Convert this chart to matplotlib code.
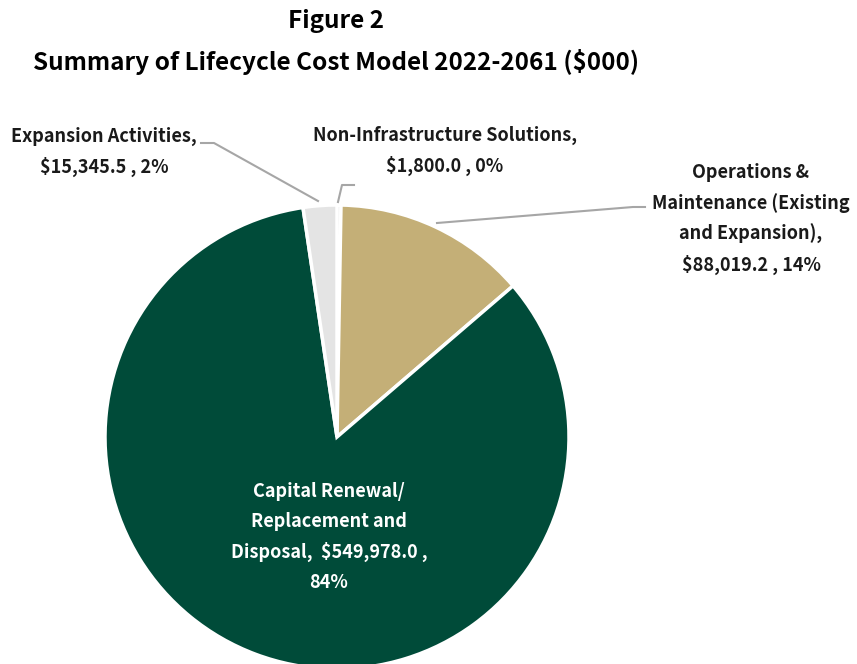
import matplotlib
matplotlib.use("Agg")
import matplotlib.pyplot as plt
from matplotlib.lines import Line2D

plt.rcParams['font.family'] = ['Noto Sans CJK JP', 'DejaVu Sans']

# ---- data ----
categories = ["Non-Infrastructure Solutions", "Operations & Maintenance (Existing and Expansion)",
              "Capital Renewal/ Replacement and Disposal", "Expansion Activities"]
values = [1800.0, 88019.2, 549978.0, 15345.5]
percents = ["0%", "14%", "84%", "2%"]
colors = ["#A6A6A6", "#C4AF77", "#004B39", "#E4E4E4"]
label_texts = [
    "Non-Infrastructure Solutions,\n$1,800.0 , 0%",
    "Operations &\nMaintenance (Existing\nand Expansion),\n$88,019.2 , 14%",
    "Capital Renewal/\nReplacement and\nDisposal,  $549,978.0 ,\n84%",
    "Expansion Activities,\n$15,345.5 , 2%",
]
title_lines = ["Figure 2", "Summary of Lifecycle Cost Model 2022-2061 ($000)"]

W, H = 857, 664
fig = plt.figure(figsize=(W / 100, H / 100), dpi=100)

cx, cy, r = 337, 437, 232
ax = fig.add_axes([(cx - r) / W, (H - cy - r) / H, 2 * r / W, 2 * r / H])
ax.pie(values, colors=colors, startangle=90, counterclock=False, radius=1,
       wedgeprops=dict(edgecolor="white", linewidth=2.5))
ax.set_xlim(-1, 1)
ax.set_ylim(-1, 1)
ax.set_aspect('auto')
ax.axis('off')
for p in ax.patches:
    p.set_clip_on(False)

def fx(x):
    return x / W

def fy(y):
    return 1 - y / H

# titles
fig.text(fx(336), fy(21), title_lines[0], ha='center', va='center',
         fontsize=17.5, fontweight='bold', color='black')
fig.text(fx(336), fy(62), title_lines[1], ha='center', va='center',
         fontsize=17.5, fontweight='bold', color='black')

# labels
lbl_kw = dict(ha='center', va='center', fontsize=13, fontweight='bold', linespacing=1.7)
fig.text(fx(445), fy(151), label_texts[0], color='#1a1a1a', **lbl_kw)
fig.text(fx(751), fy(219), label_texts[1], color='#1a1a1a', **lbl_kw)
fig.text(fx(329), fy(537), label_texts[2], color='white', **lbl_kw)
fig.text(fx(104), fy(152), label_texts[3], color='#1a1a1a', **lbl_kw)

# leader lines
def leader(xs, ys):
    fig.add_artist(Line2D([fx(x) for x in xs], [fy(y) for y in ys],
                          color='#A6A6A6', linewidth=1.5))

leader([201, 214, 318], [143, 143, 201])
leader([354, 342, 338], [185, 185, 202])
leader([437, 633, 645], [223, 207, 207])

fig.savefig("out.png", dpi=100, facecolor='white')
